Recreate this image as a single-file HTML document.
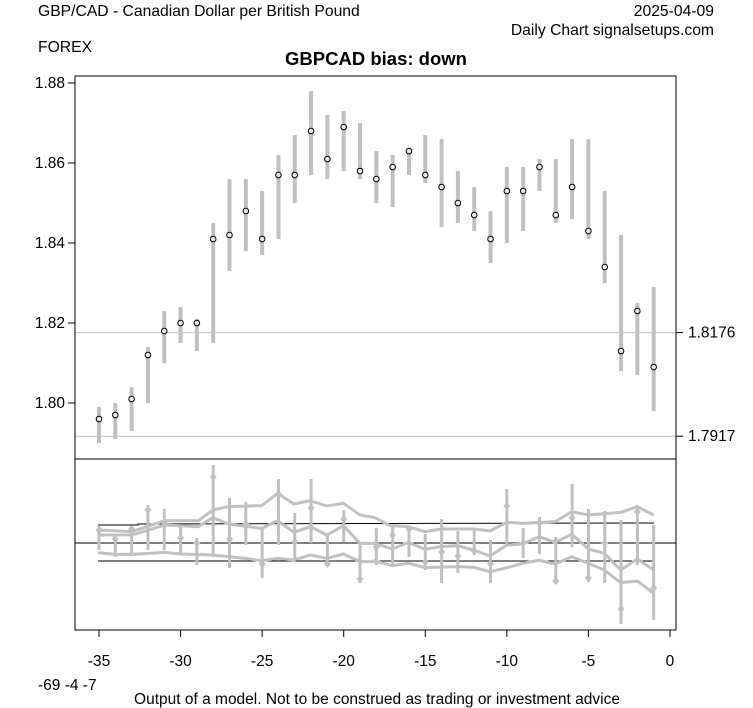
<!DOCTYPE html>
<html><head><meta charset="utf-8"><style>
body{margin:0;background:#fff;}
svg{display:block;font-family:"Liberation Sans",Arial,sans-serif;}
</style></head><body>
<svg id="s" width="753" height="708" xmlns="http://www.w3.org/2000/svg">
<rect width="753" height="708" fill="#fff"/>
<text x="38" y="16" font-size="15.7">GBP/CAD - Canadian Dollar per British Pound</text>
<text x="38" y="52" font-size="15.7">FOREX</text>
<text x="714" y="16" font-size="15.7" text-anchor="end">2025-04-09</text>
<text x="714" y="35" font-size="15.7" text-anchor="end">Daily Chart signalsetups.com</text>
<text x="376" y="65" font-size="18.5" font-weight="bold" text-anchor="middle">GBPCAD bias: down</text>
<text x="38" y="690" font-size="15.5">-69 -4 -7</text>
<text x="377" y="704" font-size="15.5" text-anchor="middle">Output of a model. Not to be construed as trading or investment advice</text>
<g id="g"></g>
</svg>
<script>
var g=document.getElementById('g'),h='';
function Y(v){return 83+(1.88-v)*4000;}
function X(i){return 99+i*16.314;}
h+='<line x1="75" x2="676" y1="'+Y(1.8176)+'" y2="'+Y(1.8176)+'" stroke="#c0c0c0"/>';
h+='<line x1="75" x2="676" y1="'+Y(1.7917)+'" y2="'+Y(1.7917)+'" stroke="#c0c0c0"/>';
h+='<line x1="676" x2="683" y1="'+Y(1.8176)+'" y2="'+Y(1.8176)+'" stroke="#000"/><text x="688" y="'+(Y(1.8176)+5)+'" font-size="15.5">1.8176</text>';
h+='<line x1="676" x2="683" y1="'+Y(1.7917)+'" y2="'+Y(1.7917)+'" stroke="#000"/><text x="688" y="'+(Y(1.7917)+5)+'" font-size="15.5">1.7917</text>';
[1.80,1.82,1.84,1.86,1.88].forEach(function(v){h+='<line x1="68" x2="75" y1="'+Y(v)+'" y2="'+Y(v)+'" stroke="#000"/><text x="65" y="'+(Y(v)+5)+'" font-size="15.5" text-anchor="end">'+v.toFixed(2)+'</text>';});
var d=[[1.796,1.790,1.799],[1.797,1.791,1.800],[1.801,1.793,1.804],[1.812,1.800,1.814],[1.818,1.810,1.823],[1.820,1.815,1.824],[1.820,1.813,1.821],[1.841,1.815,1.845],[1.842,1.833,1.856],[1.848,1.838,1.856],[1.841,1.837,1.853],[1.857,1.841,1.862],[1.857,1.850,1.867],[1.868,1.857,1.878],[1.861,1.856,1.872],[1.869,1.858,1.873],[1.858,1.856,1.870],[1.856,1.850,1.863],[1.859,1.849,1.862],[1.863,1.857,1.863],[1.857,1.855,1.867],[1.854,1.844,1.866],[1.850,1.845,1.858],[1.847,1.843,1.854],[1.841,1.835,1.848],[1.853,1.840,1.859],[1.853,1.843,1.859],[1.859,1.853,1.861],[1.847,1.845,1.861],[1.854,1.846,1.866],[1.843,1.841,1.866],[1.834,1.830,1.853],[1.813,1.808,1.842],[1.823,1.807,1.825],[1.809,1.798,1.829]];
d.forEach(function(p,i){var x=X(i);h+='<line x1="'+x+'" x2="'+x+'" y1="'+Y(p[2])+'" y2="'+Y(p[1])+'" stroke="#c0c0c0" stroke-width="4"/>';});
d.forEach(function(p,i){h+='<circle cx="'+X(i)+'" cy="'+Y(p[0])+'" r="2.8" fill="#e8e8e8" stroke="#000" stroke-width="1"/>';});
h+='<line x1="75" x2="676" y1="543" y2="543" stroke="#000"/>';
h+='<polyline points="98,525 138,525 138,524 654,523" fill="none" stroke="#000"/>';
h+='<polyline points="98,561 654,561" fill="none" stroke="#000"/>';
var L=[[530,526,550],[539,535,557],[529,527,555],[510,505,550],[523,509,550],[538,526,554],[543,538,565],[477,465,557],[539,498,568],[524,502,545],[564,528,578],[494,479,545],[542,513,560],[508,479,543],[564,535,565],[519,510,542],[579,543,583],[547,528,565],[535,525,565],[529,526,557],[562,534,570],[552,519,583],[556,531,573],[551,529,555],[564,540,583],[506,489,545],[543,528,558],[523,517,554],[581,537,582],[518,484,547],[578,509,582],[543,511,583],[609,520,624],[512,507,565],[588,525,620]];
L.forEach(function(p,i){var x=X(i);h+='<line x1="'+x+'" x2="'+x+'" y1="'+p[1]+'" y2="'+p[2]+'" stroke="#c0c0c0" stroke-width="3"/><path d="M'+x+' '+(p[0]-4)+'l3.5 4l-3.5 4l-3.5 -4z" fill="#c0c0c0"/>';});
function pl(a,b,ox){var s='';for(var k=0;k<a.length;k+=2)s+=(ox+a[k]/3)+','+(455+a[k+1]/3)+' ';return s;}
var t1=[70,225,170,230,270,197,370,197,413,165,460,155,560,152,608,115,657,147,706,137,756,153,805,145,855,180,900,188],
t2=[0,188,45,212,100,215,150,230,198,222,300,222,345,228,396,202,443,205,541,200,590,170,640,180,737,172,787,155,836,180],
m1=[70,240,170,240,270,210,370,215,413,188,460,207,560,220,608,197,657,232,706,215,756,240,805,212,855,265,900,265],
m2=[0,265,52,282,100,262,150,283,198,275,248,272,296,285,345,303,396,270,443,267,492,245,541,262,590,238,640,282,688,295,737,345,787,312,836,345],
b1=[70,293,120,298,170,298,270,292,316,297,413,300,510,310,560,317,608,310,657,315,706,300,756,310,805,297,855,320,900,320],
b2=[0,318,52,332,100,325,150,338,248,335,296,337,345,350,396,338,443,325,492,316,541,327,590,305,640,325,688,345,737,383,787,378,836,415];
[[t1,t2],[m1,m2],[b1,b2]].forEach(function(q){h+='<polyline points="'+pl(q[0],0,75)+pl(q[1],0,375)+'" fill="none" stroke="#c0c0c0" stroke-width="3"/>';});
h+='<rect x="75" y="76" width="601" height="554" fill="none" stroke="#000"/>';
h+='<line x1="75" x2="676" y1="459" y2="459" stroke="#000"/>';
[-35,-30,-25,-20,-15,-10,-5,0].forEach(function(v){var x=X(v+35);h+='<line x1="'+x+'" x2="'+x+'" y1="630" y2="637" stroke="#000"/><text x="'+x+'" y="666" font-size="15.5" text-anchor="middle">'+v+'</text>';});
g.innerHTML=h;
</script>
</body></html>
